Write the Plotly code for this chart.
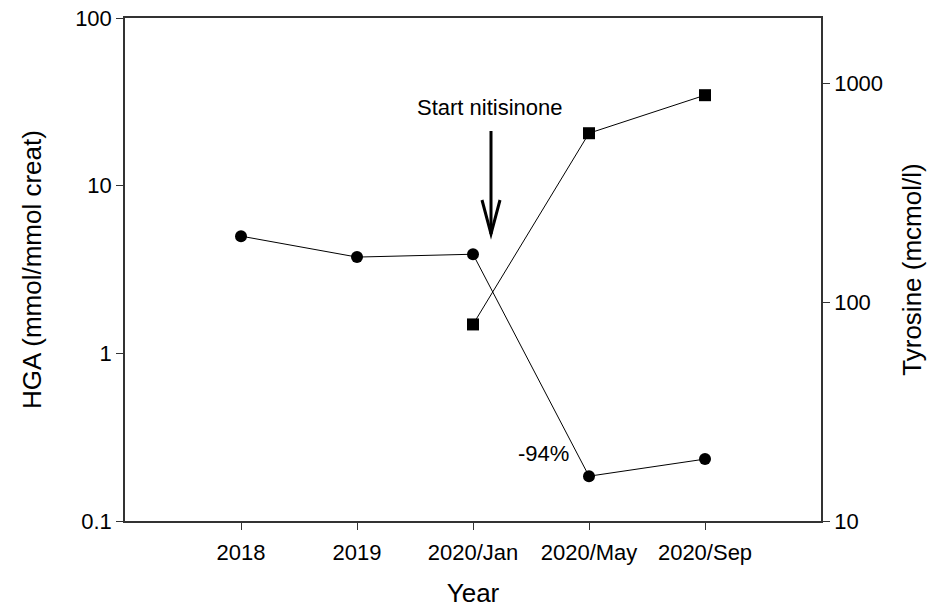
import plotly.graph_objects as go

# Sampling points and measurements
periods = ["2018", "2019", "2020/Jan", "2020/May", "2020/Sep"]
hga = [5.0, 3.75, 3.9, 0.185, 0.234]               # mmol/mmol creat
tyr_periods = ["2020/Jan", "2020/May", "2020/Sep"]
tyrosine = [79, 590, 880]                         # mcmol/l

pos = {p: i for i, p in enumerate(periods)}
FONT = "Liberation Sans, Arial, sans-serif"

fig = go.Figure()
fig.add_trace(go.Scatter(
    x=[pos[p] for p in periods], y=hga, mode="lines+markers",
    line=dict(color="black", width=1),
    marker=dict(symbol="circle", size=12, color="black"),
    yaxis="y", showlegend=False))
fig.add_trace(go.Scatter(
    x=[pos[p] for p in tyr_periods], y=tyrosine, mode="lines+markers",
    line=dict(color="black", width=1),
    marker=dict(symbol="square", size=12, color="black"),
    yaxis="y2", showlegend=False))

L, R, T, B = 125, 821, 18, 521
W, H = 945, 608


def px(x):
    return (x - L) / (R - L)


def py(y):
    return (B - y) / (B - T)


# Arrow marking the start of treatment
fig.add_shape(type="path", xref="paper", yref="paper",
              path=f"M {px(491)} {py(131)} L {px(491)} {py(234)}",
              line=dict(color="black", width=3))
fig.add_shape(type="path", xref="paper", yref="paper",
              path=f"M {px(482)} {py(200)} L {px(491)} {py(234)} L {px(500)} {py(200)}",
              line=dict(color="black", width=3))

fig.add_annotation(text="Start nitisinone", xref="paper", yref="paper",
                   x=px(490), y=py(107), xanchor="center", yanchor="middle",
                   showarrow=False,
                   font=dict(family=FONT, size=22, color="black"))
fig.add_annotation(text="-94%", xref="paper", yref="paper",
                   x=px(543), y=py(453), xanchor="center", yanchor="middle",
                   showarrow=False,
                   font=dict(family=FONT, size=22, color="black"))

fig.update_layout(
    width=W, height=H,
    margin=dict(l=L, r=W - R, t=T, b=H - B),
    plot_bgcolor="white", paper_bgcolor="white",
    font=dict(family=FONT, size=22, color="black"),
    xaxis=dict(
        range=[-1, 5], tickvals=list(range(len(periods))), ticktext=periods,
        showline=True, linecolor="#333", linewidth=1.5, mirror=True,
        ticks="outside", ticklen=7, tickcolor="#333", showgrid=False,
        zeroline=False, automargin=False, ticklabelstandoff=4,
        title=dict(text="Year", font=dict(size=26), standoff=27),
        tickfont=dict(size=22)),
    yaxis=dict(
        type="log", range=[-1, 2], tickvals=[0.1, 1, 10, 100],
        ticktext=["0.1", "1", "10", "100"],
        showline=True, linecolor="#333", linewidth=1.5,
        ticks="outside", ticklen=7, tickcolor="#333", showgrid=False,
        automargin=False,
        title=dict(text="HGA (mmol/mmol creat)", font=dict(size=26), standoff=26),
        tickfont=dict(size=22)),
    yaxis2=dict(
        type="log", range=[1, 3.297], overlaying="y", side="right",
        tickvals=[10, 100, 1000], ticktext=["10", "100", "1000"],
        showline=True, linecolor="#333", linewidth=1.5,
        ticks="outside", ticklen=7, tickcolor="#333", showgrid=False,
        automargin=False,
        title=dict(text="Tyrosine (mcmol/l)", font=dict(size=26), standoff=21),
        tickfont=dict(size=22)),
)

fig.write_html("out.html")
